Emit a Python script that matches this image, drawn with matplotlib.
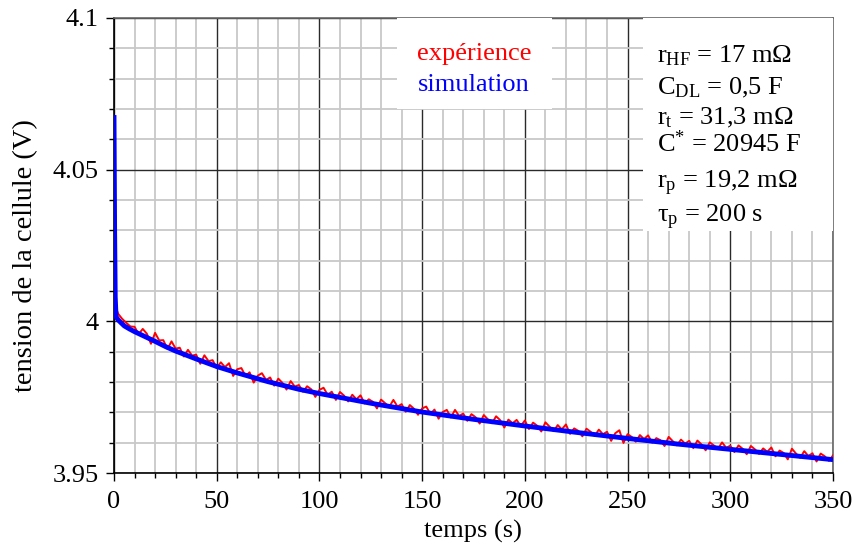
import numpy as np
import matplotlib
matplotlib.use("Agg")
import matplotlib.pyplot as plt
from matplotlib.patches import Rectangle

plt.rcParams['font.family'] = ['Liberation Serif', 'DejaVu Serif']
plt.rcParams['mathtext.fontset'] = 'custom'
plt.rcParams['mathtext.rm'] = 'Liberation Serif'
plt.rcParams['mathtext.it'] = 'Liberation Serif:italic'

# ---- data ----
t_sim = [0, 0.3, 0.6, 1, 2, 3, 5, 7.5, 10, 15, 20, 25, 30, 40, 50, 60, 75, 90,
         100, 125, 150, 175, 200, 225, 250, 275, 300, 325, 350]
v_sim = [4.068, 4.03, 4.008, 4.0015, 4.0005, 3.9998, 3.9985, 3.9975, 3.9966,
         3.9950, 3.9934, 3.9917, 3.9902, 3.9876, 3.9851, 3.9830, 3.9801, 3.9776,
         3.9762, 3.9730, 3.9701, 3.9677, 3.9655, 3.9634, 3.9614, 3.9595, 3.9578,
         3.9561, 3.9544]

t_exp_start = [0, 0.2, 0.5, 1, 1.5]
v_exp_start = [4.040, 4.020, 4.010, 4.005, 4.0035]
t_exp_step = 2
v_exp = [
    4.0025, 4.0008, 3.9995, 3.9983, 3.9982, 3.9958, 3.9975, 3.9959, 3.9926, 3.9962,
    3.9937, 3.9938, 3.9909, 3.9934, 3.9910, 3.9913, 3.9884, 3.9906, 3.9887, 3.9890,
    3.9860, 3.9888, 3.9869, 3.9872, 3.9846, 3.9865, 3.9849, 3.9862, 3.9820, 3.9842,
    3.9846, 3.9820, 3.9832, 3.9798, 3.9821, 3.9829, 3.9807, 3.9815, 3.9788, 3.9811,
    3.9797, 3.9775, 3.9803, 3.9785, 3.9790, 3.9768, 3.9786, 3.9776, 3.9751, 3.9774,
    3.9781, 3.9758, 3.9768, 3.9741, 3.9767, 3.9755, 3.9736, 3.9758, 3.9743, 3.9756,
    3.9729, 3.9743, 3.9735, 3.9713, 3.9742, 3.9730, 3.9718, 3.9741, 3.9719, 3.9727,
    3.9702, 3.9724, 3.9712, 3.9692, 3.9713, 3.9719, 3.9695, 3.9709, 3.9679, 3.9701,
    3.9708, 3.9683, 3.9708, 3.9688, 3.9696, 3.9672, 3.9694, 3.9684, 3.9663, 3.9691,
    3.9677, 3.9664, 3.9687, 3.9674, 3.9650, 3.9676, 3.9664, 3.9675, 3.9655, 3.9673,
    3.9645, 3.9666, 3.9656, 3.9637, 3.9667, 3.9653, 3.9638, 3.9658, 3.9644, 3.9660,
    3.9629, 3.9647, 3.9639, 3.9621, 3.9646, 3.9636, 3.9622, 3.9643, 3.9628, 3.9636,
    3.9606, 3.9631, 3.9641, 3.9599, 3.9628, 3.9619, 3.9603, 3.9625, 3.9612, 3.9624,
    3.9600, 3.9615, 3.9608, 3.9589, 3.9619, 3.9605, 3.9591, 3.9610, 3.9597, 3.9606,
    3.9582, 3.9607, 3.9594, 3.9575, 3.9601, 3.9591, 3.9580, 3.9601, 3.9583, 3.9590,
    3.9569, 3.9591, 3.9580, 3.9562, 3.9589, 3.9578, 3.9563, 3.9581, 3.9570, 3.9584,
    3.9555, 3.9574, 3.9566, 3.9545, 3.9580, 3.9564, 3.9550, 3.9572, 3.9556, 3.9565,
    3.9538, 3.9564, 3.9555, 3.9540, 3.9558]

x_ticks = [0, 50, 100, 150, 200, 250, 300, 350]
y_ticks = [3.95, 4.0, 4.05, 4.1]
y_tick_labels = ['3.95', '4', '4.05', '4.1']

legend_labels = ['expérience', 'simulation']
param_lines = [r'r$_{\mathrm{HF}}$ = 17 mΩ', r'C$_{\mathrm{DL}}$ = 0,5 F',
               r'r$_{\mathrm{t}}$ = 31,3 mΩ', r'C$^{*}$ = 20945 F',
               r'r$_{\mathrm{p}}$ = 19,2 mΩ', r'τ$_{\mathrm{p}}$ = 200 s']

# ---- figure ----
W, H = 855, 549
fig = plt.figure(figsize=(W / 100, H / 100), dpi=100)
L, R, T, B = 114, 833, 18, 473
ax = fig.add_axes([L / W, (H - B) / H, (R - L) / W, (B - T) / H])

t_exp = t_exp_start + [t_exp_step * (i + 1) for i in range(len(v_exp))]
v_exp_all = v_exp_start + v_exp

ax.plot(t_exp, v_exp_all, color='#ff0000', lw=1.4, zorder=3)
ax.plot(t_sim, v_sim, color='#0000ff', lw=3.5, zorder=4, solid_capstyle='butt')

ax.set_xlim(0, 350)
ax.set_ylim(3.95, 4.1)
ax.set_xticks(x_ticks)
ax.set_xticks(np.arange(0, 351, 10), minor=True)
ax.set_yticks(y_ticks)
ax.set_yticklabels(y_tick_labels)
ax.set_yticks(np.arange(3.95, 4.1001, 0.01), minor=True)

ax.grid(which='minor', color='#c8c8c8', lw=1.3, zorder=0)
ax.grid(which='major', color='#2a2a2a', lw=1.0, zorder=1)
ax.set_axisbelow(True)

ax.tick_params(which='major', direction='out', length=6, width=1.0,
               labelsize=19, pad=5, top=False, right=False, colors='black')
ax.tick_params(which='minor', direction='out', length=3.5, width=1.0,
               top=False, right=False)
ax.tick_params(axis='x', which='major', pad=7)

for side in ['left', 'bottom']:
    ax.spines[side].set_color('black')
    ax.spines[side].set_linewidth(1.2)
for side in ['top', 'right']:
    ax.spines[side].set_color('#666666')
    ax.spines[side].set_linewidth(1.2)

fig.text(473 / W, 1 - 538 / H, 'temps (s)', fontsize=19, ha='center',
         va='baseline')
fig.text(26 / W, 1 - 256 / H, 'tension de la cellule (V)', fontsize=20.5,
         ha='center', va='center', rotation=90)

def px_to_ax(x, y):
    return (x - L) / (R - L), (B - y) / (B - T)

# legend box
x0, y0 = px_to_ax(397, 109)
x1, y1 = px_to_ax(552, 18)
ax.add_patch(Rectangle((x0, y0), x1 - x0, y1 - y0, transform=ax.transAxes,
                       facecolor='white', edgecolor='none', zorder=5))
for lbl, col, yb in zip(legend_labels, ['#ff0000', '#0000ff'], [60, 91]):
    xx, yy = px_to_ax(474, yb)
    ax.text(xx, yy, lbl, color=col, fontsize=19, ha='center', va='baseline',
            transform=ax.transAxes, zorder=6)

# parameter box
x0, y0 = px_to_ax(643, 231)
x1, y1 = px_to_ax(833, 18)
ax.add_patch(Rectangle((x0, y0), x1 - x0, y1 - y0, transform=ax.transAxes,
                       facecolor='white', edgecolor='none', zorder=5))
for line, yb in zip(param_lines, [62, 94, 124, 152, 188, 222]):
    xx, yy = px_to_ax(657, yb)
    ax.text(xx, yy, line, color='black', fontsize=19, ha='left', va='baseline',
            transform=ax.transAxes, zorder=6)

fig.savefig('out.png', dpi=100)
